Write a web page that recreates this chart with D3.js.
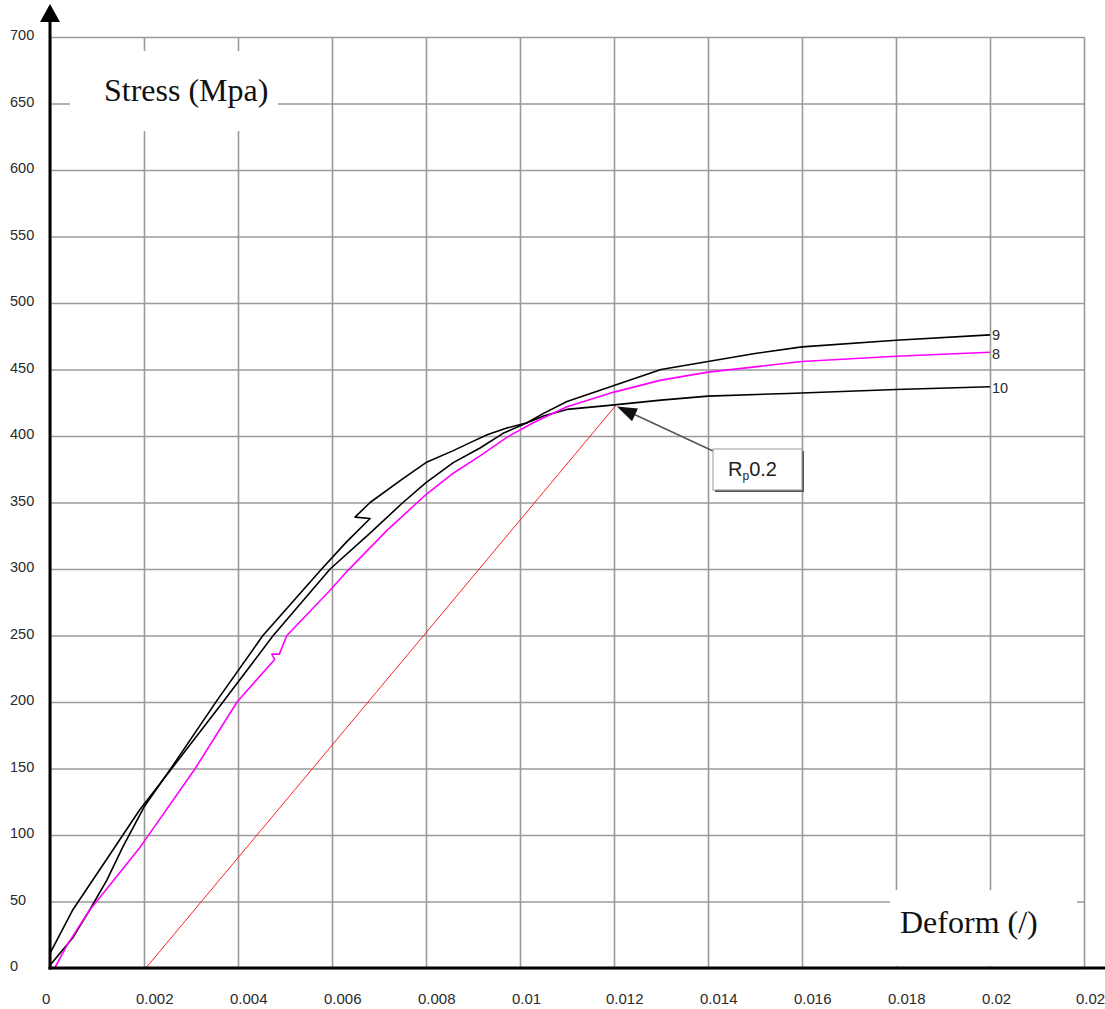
<!DOCTYPE html>
<html>
<head>
<meta charset="utf-8">
<script src="https://cdn.jsdelivr.net/npm/d3@7"></script>
<style>
  body { margin: 0; background: #fff; }
  text { font-family: "Liberation Sans", Arial, sans-serif; }
</style>
</head>
<body>
<div class="chart"></div>
<script>
const width = 1105;
const height = 1009;

// strain / stress readings, [deformation, stress MPa]
const curve9 = [
  [0, 11], [0.00049, 44], [0.00121, 82], [0.00191, 119],
  [0.00259, 150], [0.00368, 200], [0.00475, 250], [0.00596, 300],
  [0.00681, 327], [0.00751, 350], [0.008, 365], [0.00858, 380],
  [0.00915, 391], [0.00964, 402], [0.01015, 410], [0.0105, 417],
  [0.011, 426], [0.012, 438], [0.013, 450], [0.014, 456], [0.015, 462],
  [0.016, 467], [0.018, 472], [0.02, 476]
];
const curve8 = [
  [0.0001, 0], [0.00036, 17], [0.00085, 44], [0.00106, 53], [0.0019, 90],
  [0.00206, 98], [0.00309, 150], [0.00398, 200], [0.00478, 232],
  [0.00472, 236], [0.00488, 236], [0.00504, 250], [0.00596, 284],
  [0.00634, 299], [0.00717, 329], [0.008, 356], [0.00858, 372],
  [0.00915, 385], [0.00972, 399], [0.01028, 410], [0.011, 422],
  [0.012, 433], [0.013, 442], [0.014, 448], [0.015, 452], [0.016, 456],
  [0.018, 460], [0.02, 463]
];
const curve10 = [
  [0, 2], [0.00049, 23], [0.00085, 44], [0.00121, 66], [0.00155, 91],
  [0.00191, 115], [0.002, 121], [0.00259, 151], [0.00355, 201],
  [0.00453, 250], [0.00578, 300], [0.0063, 320], [0.00681, 338],
  [0.00649, 339], [0.00681, 350], [0.00751, 368], [0.008, 380],
  [0.00858, 389], [0.00894, 395], [0.0093, 401], [0.00972, 406],
  [0.01015, 410], [0.0105, 415], [0.011, 420], [0.0119, 423],
  [0.013, 427], [0.014, 430], [0.0157, 432], [0.018, 435], [0.02, 437]
];
// 0.2% offset line
const offsetLine = [[0.00204, 0], [0.01204, 423]];
const rpPoint = [0.01204, 423];

const xTicks = [0, 0.002, 0.004, 0.006, 0.008, 0.01, 0.012, 0.014, 0.016, 0.018, 0.02, 0.022];
const xTickLabels = ['0', '0.002', '0.004', '0.006', '0.008', '0.01', '0.012', '0.014', '0.016', '0.018', '0.02', '0.022'];
const yTicks = [0, 50, 100, 150, 200, 250, 300, 350, 400, 450, 500, 550, 600, 650, 700];

const series = [
  { name: '10', data: curve10, color: '#000', dy: 2 },
  { name: '9', data: curve9, color: '#000', dy: 0 },
  { name: '8', data: curve8, color: '#ff00ff', dy: 2 }
];

const svg = d3.select("div.chart").append("svg")
  .attr("width", width)
  .attr("height", height)
  .style("display", "block")
  .style("background-color", "white");

const scaleX = d3.scaleLinear()
  .domain([0, 0.022])
  .range([50, 1084]);

const scaleY = d3.scaleLinear()
  .domain([0, 700])
  .range([968, 37]);

// horizontal grid + y labels
const yAxis = d3.axisLeft(scaleY)
  .tickValues(yTicks)
  .tickSize(-(scaleX(0.022) - scaleX(0)))
  .tickFormat(d3.format('d'));

const horizontalGrid = svg.append('g')
  .attr('transform', `translate(${scaleX(0)}, 0)`)
  .call(yAxis);
horizontalGrid.select('.domain').remove();
horizontalGrid.selectAll('.tick line')
  .attr('stroke', '#9a9a9a')
  .attr('stroke-width', 1.6);
horizontalGrid.selectAll('.tick text')
  .attr('x', -40)
  .attr('dy', '0.32em')
  .attr('transform', 'translate(0, -2)')
  .attr('text-anchor', 'start')
  .style('font-size', '14.5px')
  .style('font-family', '"Liberation Sans", Arial, sans-serif')
  .attr('fill', '#2a2a2a');

// vertical grid + x labels
const xAxis = d3.axisBottom(scaleX)
  .tickValues(xTicks)
  .tickSize(-(scaleY(0) - scaleY(700)))
  .tickFormat((d, i) => xTickLabels[i]);

const verticalGrid = svg.append('g')
  .attr('transform', `translate(0, ${scaleY(0)})`)
  .call(xAxis);
verticalGrid.select('.domain').remove();
verticalGrid.selectAll('.tick line')
  .attr('stroke', '#9a9a9a')
  .attr('stroke-width', 1.6);
verticalGrid.selectAll('.tick text')
  .attr('x', -8.5)
  .attr('y', 36)
  .attr('dy', 0)
  .attr('text-anchor', 'start')
  .style('font-size', '15px')
  .style('font-family', '"Liberation Sans", Arial, sans-serif')
  .attr('fill', '#2a2a2a');

// white boxes behind the axis titles
svg.append('rect')
  .attr('x', 70).attr('y', 51)
  .attr('width', 208).attr('height', 80)
  .attr('fill', 'white');
svg.append('rect')
  .attr('x', 890).attr('y', 890)
  .attr('width', 187).attr('height', 76)
  .attr('fill', 'white');

svg.append('text')
  .attr('x', 104)
  .attr('y', 101)
  .style('font-family', '"Liberation Serif", "Times New Roman", serif')
  .style('font-size', '32px')
  .attr('fill', '#111')
  .text('Stress (Mpa)');

svg.append('text')
  .attr('x', 900)
  .attr('y', 933)
  .style('font-family', '"Liberation Serif", "Times New Roman", serif')
  .style('font-size', '32px')
  .attr('fill', '#111')
  .text('Deform (/)');

// offset line
const line = d3.line()
  .x(d => scaleX(d[0]))
  .y(d => scaleY(d[1]));

svg.append('path')
  .datum(offsetLine)
  .attr('d', line)
  .attr('fill', 'none')
  .attr('stroke', '#ff2020')
  .attr('stroke-width', 1);

// curves
svg.selectAll('path.curve')
  .data(series)
  .enter()
  .append('path')
  .attr('class', 'curve')
  .attr('d', d => line(d.data))
  .attr('fill', 'none')
  .attr('stroke', d => d.color)
  .attr('stroke-width', 1.6)
  .attr('stroke-linejoin', 'round');

svg.selectAll('text.curve-label')
  .data(series)
  .enter()
  .append('text')
  .attr('class', 'curve-label')
  .attr('x', d => scaleX(d.data[d.data.length - 1][0]) + 2)
  .attr('y', d => scaleY(d.data[d.data.length - 1][1]) + d.dy)
  .attr('dy', '0.32em')
  .style('font-size', '14.5px')
  .attr('fill', '#2a2a2a')
  .text(d => d.name);

// axes
svg.append('line')
  .attr('x1', scaleX(0)).attr('y1', scaleY(0) + 1.5)
  .attr('x2', scaleX(0)).attr('y2', 20)
  .attr('stroke', 'black')
  .attr('stroke-width', 3);
svg.append('path')
  .attr('d', `M${scaleX(0) - 10},22 L${scaleX(0) + 10},22 L${scaleX(0)},4 Z`)
  .attr('fill', 'black');
svg.append('line')
  .attr('x1', scaleX(0) - 1.5).attr('y1', scaleY(0))
  .attr('x2', width).attr('y2', scaleY(0))
  .attr('stroke', 'black')
  .attr('stroke-width', 3);

// Rp0.2 callout
const callout = svg.append('g');
const boxX = 713;
const boxY = 449;
const tipX = scaleX(rpPoint[0]) + 1;
const tipY = scaleY(rpPoint[1]) + 1;

const ang = Math.atan2(tipY - boxY - 2, tipX - boxX);
const headLen = 20;
const headW = 7;
const baseX = tipX - headLen * Math.cos(ang);
const baseY = tipY - headLen * Math.sin(ang);

callout.append('line')
  .attr('x1', boxX).attr('y1', boxY + 2)
  .attr('x2', baseX).attr('y2', baseY)
  .attr('stroke', '#555')
  .attr('stroke-width', 1.6);
callout.append('path')
  .attr('d', `M${tipX},${tipY}
    L${baseX - headW * Math.sin(ang)},${baseY + headW * Math.cos(ang)}
    L${baseX + headW * Math.sin(ang)},${baseY - headW * Math.cos(ang)} Z`)
  .attr('fill', '#111');

callout.append('rect')
  .attr('x', boxX + 2).attr('y', boxY + 2)
  .attr('width', 89).attr('height', 41)
  .attr('fill', '#555');
callout.append('rect')
  .attr('x', boxX).attr('y', boxY)
  .attr('width', 89).attr('height', 41)
  .attr('fill', 'white')
  .attr('stroke', '#999')
  .attr('stroke-width', 1);

const rpText = callout.append('text')
  .attr('x', boxX + 15)
  .attr('y', boxY + 27)
  .style('font-size', '20px')
  .attr('fill', '#222');
rpText.append('tspan').text('R');
rpText.append('tspan')
  .attr('dy', 4)
  .style('font-size', '12px')
  .text('p');
rpText.append('tspan')
  .attr('dy', -4)
  .text('0.2');
</script>
</body>
</html>
